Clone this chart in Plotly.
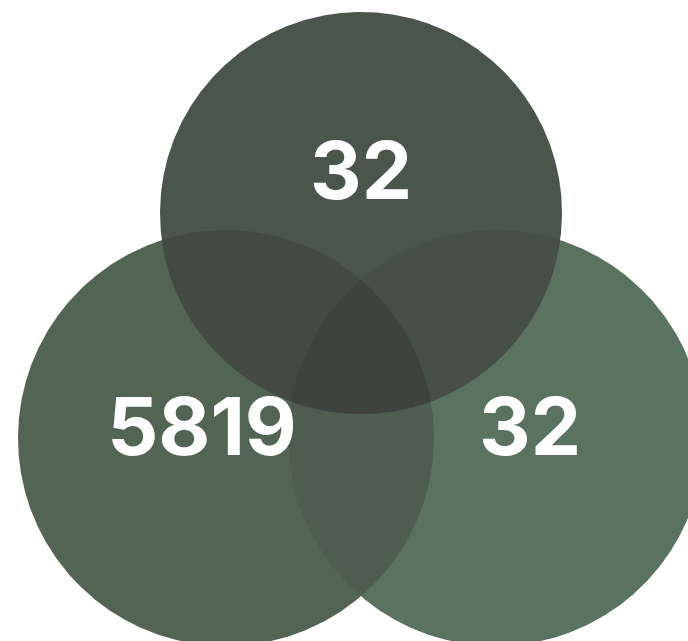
import numpy as np
import plotly.graph_objects as go

# Data
set_names = ["Left", "Right", "Top"]
region_values = [5819, 32, 32]

# Layout (pixel-space geometry)
W, H = 688, 641
centers_x = [226, 496, 361]
centers_y = [438, 438, 213]
radii = [208, 208, 201]
single_fills = ["rgb(82,100,84)", "rgb(90,114,96)", "rgb(74,85,76)"]
# intersection region colours: (set indices) -> colour
overlap_fills = [
    ((0, 1), "rgb(77,93,80)"),
    ((0, 2), "rgb(67,74,67)"),
    ((1, 2), "rgb(70,80,71)"),
    ((0, 1, 2), "rgb(62,67,61)"),
]
label_x = [202, 530, 361]
label_y = [435, 435, 179]


def region_polygon(idx, n=1440):
    xs, ys = [], []
    for i in idx:
        t = np.linspace(0, 2 * np.pi, n, endpoint=False)
        px = centers_x[i] + radii[i] * np.cos(t)
        py = centers_y[i] + radii[i] * np.sin(t)
        ok = np.ones_like(px, dtype=bool)
        for j in idx:
            if j == i:
                continue
            ok &= (px - centers_x[j]) ** 2 + (py - centers_y[j]) ** 2 <= radii[j] ** 2 + 1e-6
        xs.append(px[ok])
        ys.append(py[ok])
    xs = np.concatenate(xs)
    ys = np.concatenate(ys)
    mx, my = xs.mean(), ys.mean()
    order = np.argsort(np.arctan2(ys - my, xs - mx))
    xs, ys = xs[order], ys[order]
    return np.append(xs, xs[0]), np.append(ys, ys[0])


fig = go.Figure()

for i, col in enumerate(single_fills):
    px, py = region_polygon((i,))
    fig.add_trace(go.Scatter(x=px, y=py, mode="lines", fill="toself",
                             fillcolor=col, line=dict(width=0, color=col),
                             hoverinfo="skip", showlegend=False, name=set_names[i]))

for idx, col in overlap_fills:
    px, py = region_polygon(idx)
    fig.add_trace(go.Scatter(x=px, y=py, mode="lines", fill="toself",
                             fillcolor=col, line=dict(width=0, color=col),
                             hoverinfo="skip", showlegend=False))

fig.add_trace(go.Scatter(
    x=label_x, y=label_y, mode="text",
    text=[str(v) for v in region_values],
    textposition="middle center",
    textfont=dict(family="Inter, Liberation Sans, Arial, sans-serif", size=80, color="white", weight="bold"),
    hoverinfo="skip", showlegend=False,
))

fig.update_layout(
    width=W, height=H,
    margin=dict(l=0, r=0, t=0, b=0),
    paper_bgcolor="white", plot_bgcolor="white",
    xaxis=dict(range=[0, W], visible=False, fixedrange=True),
    yaxis=dict(range=[H, 0], visible=False, fixedrange=True),
    showlegend=False,
)

fig.write_html("out.html", config={"displayModeBar": False},
               post_script="document.body.style.margin='0px';")
